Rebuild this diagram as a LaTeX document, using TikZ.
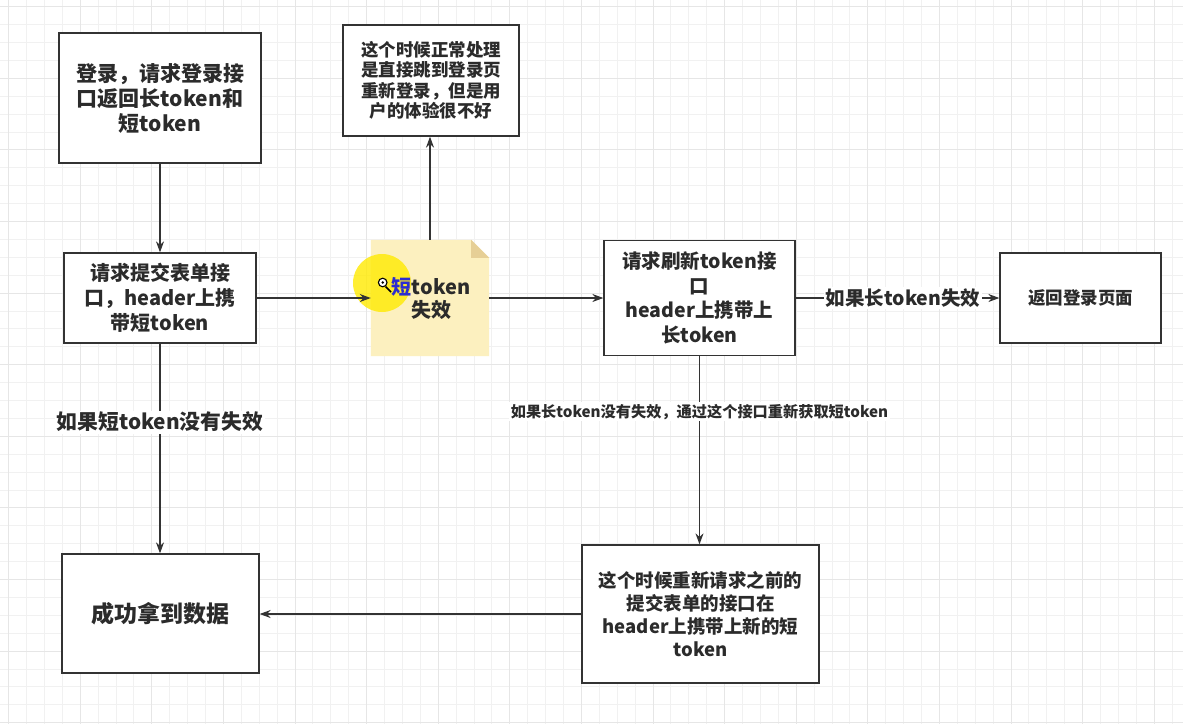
\documentclass[tikz,border=0pt]{standalone}
\usepackage{fontspec}
\setmainfont{Noto Sans CJK SC}
\usetikzlibrary{arrows.meta,calc}
\definecolor{linec}{HTML}{333333}
\definecolor{txt}{HTML}{2B2B2B}
\definecolor{gridminor}{HTML}{F1F1F1}
\definecolor{gridmajor}{HTML}{E6E6E6}
\definecolor{notefill}{HTML}{FCF0BF}
\definecolor{notefold}{HTML}{E6CF96}
\definecolor{hilite}{HTML}{FFEA00}
\definecolor{selblue}{HTML}{2C2CD0}
\begin{document}
\begin{tikzpicture}[x=1pt,y=-1pt,
  box/.style={draw=linec, line width=1.3pt, fill=white, align=center, text=txt, inner sep=0pt},
  arr/.style={draw=linec, line width=1.3pt, -{Stealth[length=11pt,width=8pt]}},
  lbl/.style={fill=white, text=txt, inner sep=1.5pt, font=\bfseries\fontsize{19.5}{22}\selectfont},
  gmin/.style={draw=gridminor, line width=0.9pt},
  gmaj/.style={draw=gridmajor, line width=1pt}
]
\useasboundingbox (0,0) rectangle (1183,724);
\fill[white] (0,0) rectangle (1183,724);
% grid
\foreach \i in {-1,...,66} { \pgfmathsetmacro\xx{8.6+17.9*\i} \draw[gmin] (\xx,0) -- (\xx,724); }
\foreach \j in {-1,...,40} { \pgfmathsetmacro\yy{6.7+17.9*\j} \draw[gmin] (0,\yy) -- (1183,\yy); }
\foreach \i in {0,...,16} { \pgfmathsetmacro\xx{8.6+71.6*\i} \draw[gmaj] (\xx,0) -- (\xx,724); }
\foreach \j in {0,...,10} { \pgfmathsetmacro\yy{6.7+71.6*\j} \draw[gmaj] (0,\yy) -- (1183,\yy); }

% boxes
\node[box, minimum width=202pt, minimum height=130pt, font=\bfseries\fontsize{21}{25}\selectfont] (login) at (160,98)
  {登录，请求登录接\\口返回长token和\\短token};
\node[box, minimum width=192pt, minimum height=90pt, font=\bfseries\fontsize{20}{25}\selectfont] (form) at (160,298)
  {请求提交表单接\\口，header上携\\带短token};
\node[box, minimum width=176pt, minimum height=111pt, font=\bfseries\fontsize{17.5}{20.5}\selectfont] (relogin) at (431,80.5)
  {这个时候正常处理\\是直接跳到登录页\\重新登录，但是用\\户的体验很不好};
\node[box, minimum width=191pt, minimum height=115pt, font=\bfseries\fontsize{19.5}{24.5}\selectfont] (refresh) at (699.5,298)
  {请求刷新token接\\口\\header上携带上\\长token};
\node[box, minimum width=161pt, minimum height=90pt, font=\bfseries\fontsize{17.5}{21}\selectfont] (back) at (1080.5,298)
  {返回登录页面};
\node[box, minimum width=197pt, minimum height=119pt, font=\bfseries\fontsize{23}{27}\selectfont] (ok) at (160.5,613.5)
  {成功拿到数据};
\node[box, minimum width=237pt, minimum height=138pt, font=\bfseries\fontsize{18.5}{23}\selectfont] (retry) at (700.5,614)
  {这个时候重新请求之前的\\提交表单的接口在\\header上携带上新的短\\token};

% note (folded corner)
\node[minimum width=118pt, minimum height=116pt, inner sep=0pt] (note) at (430,298) {};
\fill[notefill] (note.north west) -- ($(note.north east)+(-18,0)$) -- ($(note.north east)+(0,18)$)
  -- (note.south east) -- (note.south west) -- cycle;
\fill[notefold] ($(note.north east)+(-18,0)$) -- ($(note.north east)+(-18,18)$) -- ($(note.north east)+(0,18)$) -- cycle;
% cursor highlight
\fill[hilite, opacity=0.8] (382,283) circle[radius=29];
\node[align=center, text=txt, inner sep=0pt, font=\bfseries\fontsize{20}{23}\selectfont] (notetext) at (431,298)
  {\textcolor{selblue}{短}token\\失效};

% connectors
\draw[arr] (login) -- (form);
\draw[arr] (form.east) -- (note.west |- form.east);
\draw[arr] (note.north) -- (note.north |- relogin.south);
\draw[arr] (note.east) -- (refresh.west);
\draw[arr] (refresh.east) -- node[lbl, pos=0.527] (l1) {如果长token失效} (back.west);
\draw[arr] (refresh.south) -- node[lbl, pos=0.295, font=\bfseries\fontsize{15.2}{17}\selectfont] (l2) {如果长token没有失效，通过这个接口重新获取短token} (refresh.south |- retry.north);
\draw[arr] (retry.west) -- (retry.west -| ok.east);
\draw[arr] (form.south) -- node[lbl, pos=0.374, font=\bfseries\fontsize{20.8}{23}\selectfont] (l3) {如果短token没有失效} (form.south |- ok.north);

% blue arrow tip of the highlighted connector
\path[draw=none, -{Stealth[length=11pt,width=8pt,color=selblue]}] (353,298) -- (note.west |- form.east);
% magnifier cursor
\draw[black, line width=1.6pt] (385.5,286.5) -- (391,292);
\draw[black, fill=white, line width=1.1pt] (382.7,282.5) circle[radius=4.3];
\fill[black] (382.7,282.5) circle[radius=1.4];
\end{tikzpicture}
\end{document}
